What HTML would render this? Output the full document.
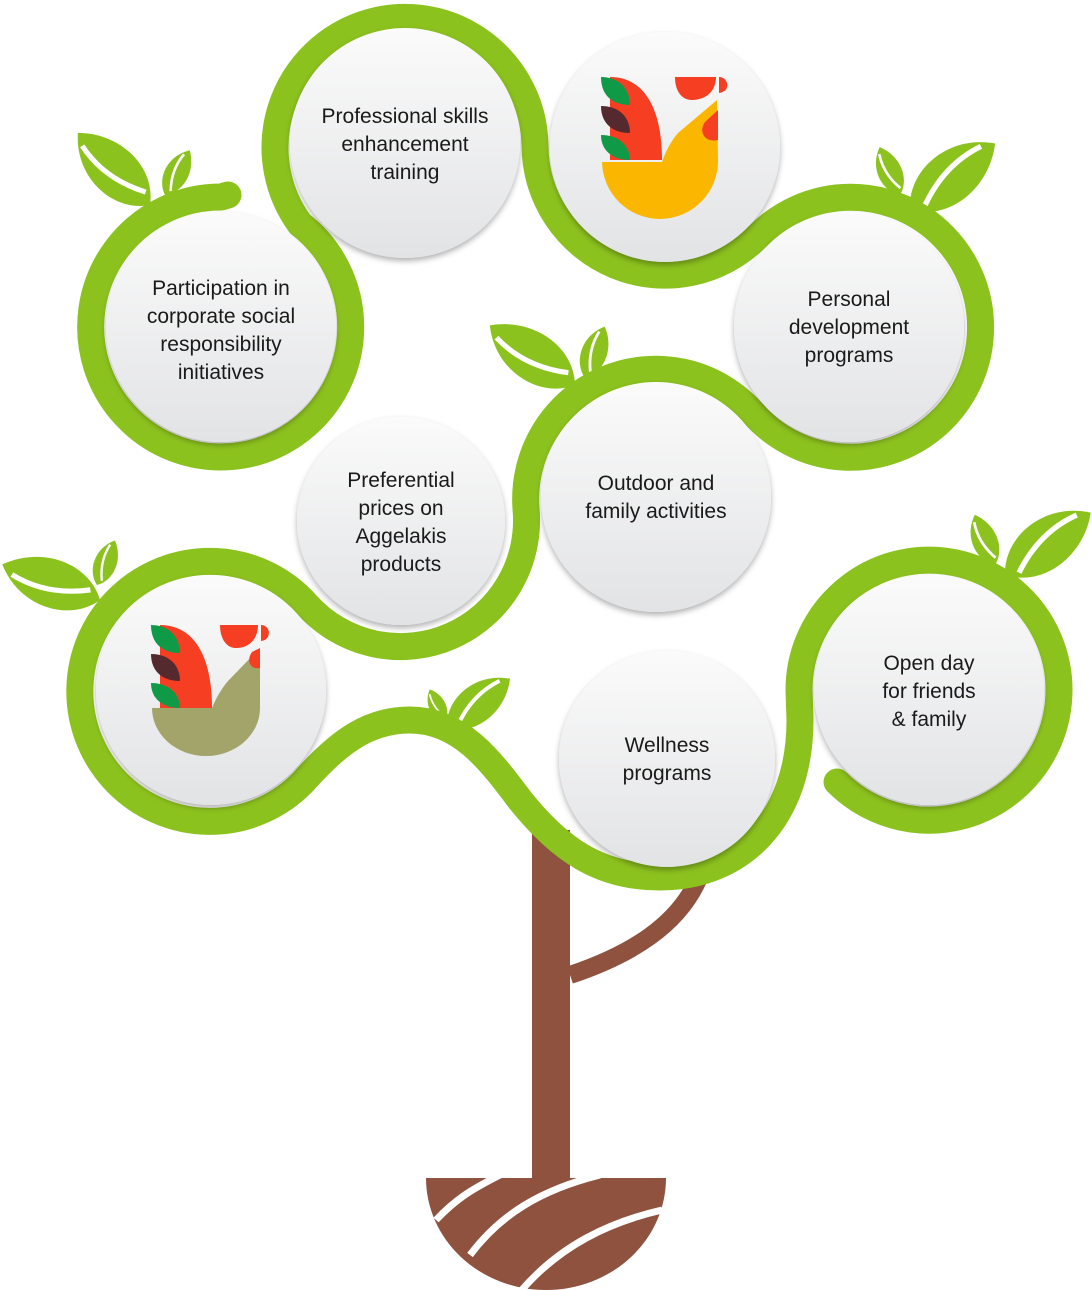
<!DOCTYPE html>
<html><head><meta charset="utf-8"><style>
html,body{margin:0;padding:0;background:#fff}
svg{display:block}
text{font-family:"Liberation Sans",sans-serif;font-size:21px;fill:#1a1a1a;text-anchor:middle}
</style></head><body>
<svg width="1092" height="1290" viewBox="0 0 1092 1290" xmlns="http://www.w3.org/2000/svg">
<defs>
<linearGradient id="g" x1="0" y1="0" x2="0" y2="1"><stop offset="0" stop-color="#fbfbfb"/><stop offset="1" stop-color="#e2e3e5"/></linearGradient>
<filter id="sh" x="-20%" y="-20%" width="140%" height="140%"><feDropShadow dx="0" dy="3" stdDeviation="3" flood-color="#000" flood-opacity="0.3"/></filter>
<g id="leaf"><path d="M0 0 C 20 -30 70 -34 100 0 C 70 30 22 30 0 0 Z" fill="#8cc21e"/><path d="M12 6 Q 50 -14 88 -6" stroke="#fff" stroke-width="5" fill="none"/></g>
</defs>
<!-- trunk -->
<rect x="532" y="830" width="38" height="352" fill="#8e523e"/>
<path d="M570 975 C 630 955 680 925 700 875" stroke="#8e523e" stroke-width="18" fill="none"/>
<path d="M426 1178 L666 1178 A 120 112 0 0 1 426 1178 Z" fill="#8e523e"/>
<path d="M436 1220 C 455 1200 470 1190 500 1175 M470 1255 C 500 1215 540 1190 600 1175 M520 1292 C 560 1245 610 1222 662 1210" stroke="#fff" stroke-width="7" fill="none"/>
<!-- leaves -->
<use href="#leaf" transform="translate(150,205) rotate(-135) scale(1.02)"/>
<use href="#leaf" transform="translate(165,195) rotate(-61) scale(0.51)"/>
<use href="#leaf" transform="translate(910,210) rotate(-38) scale(1.08)"/>
<use href="#leaf" transform="translate(900,195) rotate(-113) scale(0.52)"/>
<use href="#leaf" transform="translate(575,385) rotate(-145) scale(1.04)"/>
<use href="#leaf" transform="translate(585,378) rotate(-69) scale(0.55)"/>
<use href="#leaf" transform="translate(100,600) rotate(-160) scale(1.04)"/>
<use href="#leaf" transform="translate(97,585) rotate(-68) scale(0.48)"/>
<use href="#leaf" transform="translate(1005,575) rotate(-36) scale(1.06)"/>
<use href="#leaf" transform="translate(995,565) rotate(-112) scale(0.54)"/>
<use href="#leaf" transform="translate(447,728) rotate(-38) scale(0.8)"/>
<use href="#leaf" transform="translate(445,722) rotate(-115) scale(0.36)"/>
<!-- green snake -->
<path d="M228 195 L221 197 A130 130 0 1 0 300 224 A130 130 0 1 1 535 145 A130 130 0 0 0 757 237 A130 130 0 1 1 752 412 A130 130 0 0 0 526 509 A126 126 0 0 1 307 605 A130 130 0 1 0 303 782 C 340 740 370 720 410 720 C 460 720 490 760 520 800 C 560 850 600 877 660 877 C 740 877 800 820 800 720 L 799 690 A130 130 0 1 1 837 782" stroke="#8cc21e" stroke-width="27" fill="none" stroke-linecap="round" stroke-linejoin="round"/>
<!-- circles -->
<g filter="url(#sh)" fill="url(#g)">
<circle cx="405" cy="143" r="115"/>
<circle cx="665" cy="147" r="115"/>
<circle cx="849" cy="327" r="115"/>
<circle cx="221" cy="327" r="115"/>
<circle cx="401" cy="521" r="104"/>
<circle cx="656" cy="497" r="115"/>
<circle cx="211" cy="690" r="115"/>
<circle cx="667" cy="759" r="108"/>
<circle cx="929" cy="690" r="115"/>
</g>
<!-- roosters -->
<g>
<path d="M610 77 C 645 77 662 110 662 160 L610 160 Z" fill="#f53e22"/>
<path d="M601 77 C 620 77 630 90 630 105 C 612 105 601 95 601 77 Z M601 135 C 620 135 630 147 630 160 C 612 160 601 150 601 135 Z" fill="#0f9a48"/>
<path d="M601 106 C 620 106 630 118 630 133 C 612 133 601 123 601 106 Z" fill="#542a2e"/>
<path d="M602 162 L 662 162 C 666 150 672 140 678 133 L 717 100 L 718 160 A 58 58 0 0 1 602 162 Z" fill="#fbb700"/>
<path d="M675 77 L716 77 C 716 92 705 100 692 100 C 681 100 675 90 675 77 Z M719 77 C 729 77 731 92 719 93 Z" fill="#f53e22"/>
<path d="M718 110 L718 140 C 705 143 698 132 705 122 Z" fill="#f53e22"/>
</g>
<g transform="translate(-450,548)">
<path d="M610 77 C 645 77 662 110 662 160 L610 160 Z" fill="#f53e22"/>
<path d="M601 77 C 620 77 630 90 630 105 C 612 105 601 95 601 77 Z M601 135 C 620 135 630 147 630 160 C 612 160 601 150 601 135 Z" fill="#0f9a48"/>
<path d="M601 106 C 620 106 630 118 630 133 C 612 133 601 123 601 106 Z" fill="#542a2e"/>
<path d="M602 160 L 662 160 C 666 150 672 140 678 133 L 710 100 L 710 160 A 54 48 0 0 1 602 160 Z" fill="#a3a46a"/>
<path d="M670 77 L708 77 C 708 92 698 100 686 100 C 676 100 670 90 670 77 Z M711 77 C 721 77 722 92 711 93 Z" fill="#f53e22"/>
<path d="M710 100 L710 120 C 700 122 696 112 702 104 Z" fill="#f53e22"/>
</g>
<!-- text -->
<text x="405" y="123">Professional skills</text><text x="405" y="151">enhancement</text><text x="405" y="179">training</text>
<text x="849" y="306">Personal</text><text x="849" y="334">development</text><text x="849" y="362">programs</text>
<text x="221" y="295">Participation in</text><text x="221" y="323">corporate social</text><text x="221" y="351">responsibility</text><text x="221" y="379">initiatives</text>
<text x="401" y="487">Preferential</text><text x="401" y="515">prices on</text><text x="401" y="543">Aggelakis</text><text x="401" y="571">products</text>
<text x="656" y="490">Outdoor and</text><text x="656" y="518">family activities</text>
<text x="667" y="752">Wellness</text><text x="667" y="780">programs</text>
<text x="929" y="670">Open day</text><text x="929" y="698">for friends</text><text x="929" y="726">&amp; family</text>
</svg>
</body></html>
